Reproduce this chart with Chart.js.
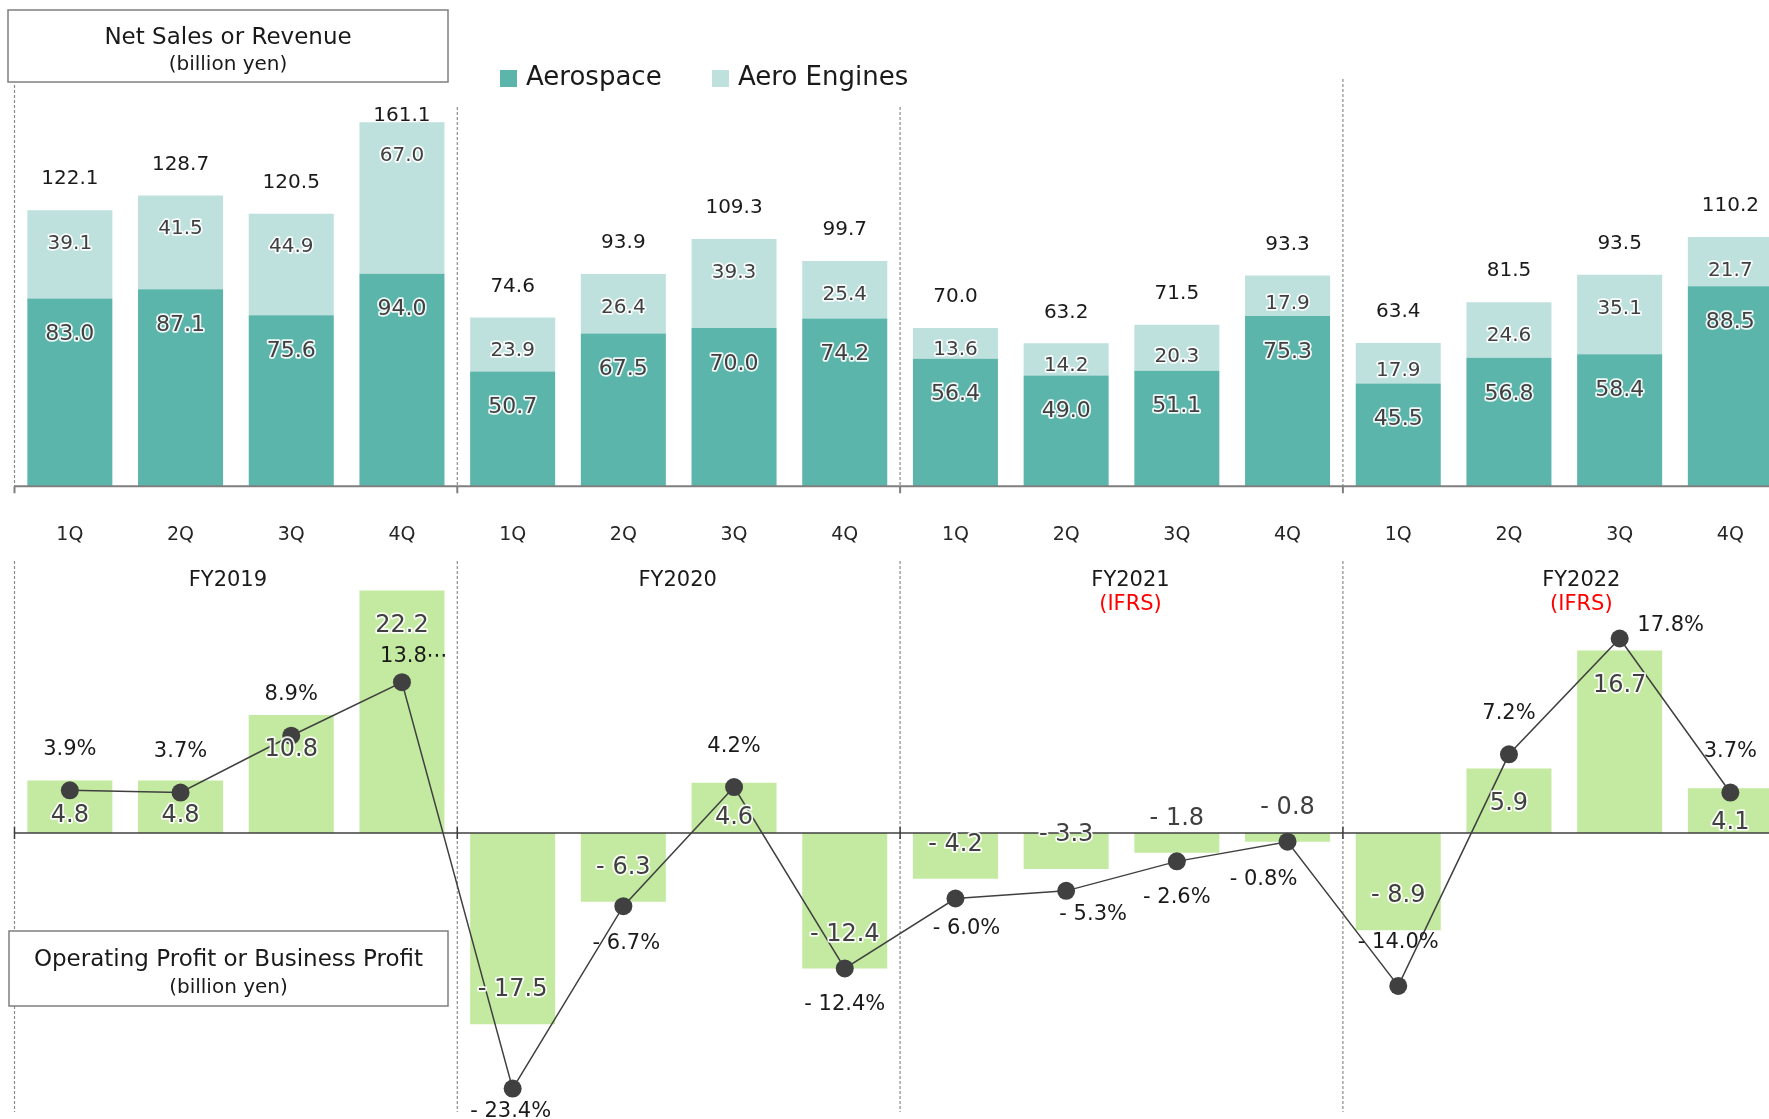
<!DOCTYPE html>
<html>
<head>
<meta charset="utf-8">
<title>Aerospace Systems quarterly results</title>
<script src="https://cdn.jsdelivr.net/npm/chart.js@4.4.1/dist/chart.umd.min.js"></script>
<style>
  html, body { margin: 0; padding: 0; background: #ffffff; overflow: hidden; }
  #wrap { position: relative; width: 1769px; height: 1119px; overflow: hidden; }
  canvas { position: absolute; left: 0; }
  #sales { top: 0; }
  #profit { top: 538px; }
</style>
</head>
<body>
<div id="wrap">
  <canvas id="sales" width="1800" height="560"></canvas>
  <canvas id="profit" width="1800" height="581"></canvas>
</div>
<script>
// ---- data (billion yen / %) ----
const quarters = ['1Q', '2Q', '3Q', '4Q'];
const fiscalYears = ['FY2019', 'FY2020', 'FY2021', 'FY2022'];
const accountingNotes = ['', '', '(IFRS)', '(IFRS)'];
const aerospace = [83.0, 87.1, 75.6, 94.0, 50.7, 67.5, 70.0, 74.2, 56.4, 49.0, 51.1, 75.3, 45.5, 56.8, 58.4, 88.5];
const aeroEngines = [39.1, 41.5, 44.9, 67.0, 23.9, 26.4, 39.3, 25.4, 13.6, 14.2, 20.3, 17.9, 17.9, 24.6, 35.1, 21.7];
const netSales = [122.1, 128.7, 120.5, 161.1, 74.6, 93.9, 109.3, 99.7, 70.0, 63.2, 71.5, 93.3, 63.4, 81.5, 93.5, 110.2];
const operatingProfit = [4.8, 4.8, 10.8, 22.2, -17.5, -6.3, 4.6, -12.4, -4.2, -3.3, -1.8, -0.8, -8.9, 5.9, 16.7, 4.1];
const profitMargin = [3.9, 3.7, 8.9, 13.8, -23.4, -6.7, 4.2, -12.4, -6.0, -5.3, -2.6, -0.8, -14.0, 7.2, 17.8, 3.7];

const quarterLabels = fiscalYears.flatMap(() => quarters);

// ---- drawing helpers ----
const FAMILY = '"DejaVu Sans", Verdana, sans-serif';
Chart.defaults.font.family = FAMILY;
const font = (size) => size + 'px ' + FAMILY;
const fmt = (v) => (v < 0 ? '- ' : '') + Math.abs(v).toFixed(1);

function haloText(ctx, text, x, y, size) {
  ctx.save();
  ctx.font = font(size);
  ctx.textAlign = 'center';
  ctx.textBaseline = 'middle';
  ctx.lineJoin = 'round';
  ctx.lineWidth = 3.5;
  ctx.strokeStyle = 'rgba(255,255,255,0.9)';
  ctx.strokeText(text, x, y);
  ctx.fillStyle = '#404040';
  ctx.fillText(text, x, y);
  ctx.restore();
}

function plainText(ctx, text, x, y, size, color, align) {
  ctx.save();
  ctx.font = font(size);
  ctx.textAlign = align || 'center';
  ctx.textBaseline = 'middle';
  ctx.fillStyle = color || '#1a1a1a';
  ctx.fillText(text, x, y);
  ctx.restore();
}

function dashedLine(ctx, x, y0, y1) {
  ctx.save();
  ctx.strokeStyle = '#8c8c8c';
  ctx.lineWidth = 1.2;
  ctx.setLineDash([3, 2]);
  ctx.beginPath();
  ctx.moveTo(x, y0);
  ctx.lineTo(x, y1);
  ctx.stroke();
  ctx.restore();
}

function titleBox(ctx, x, y, w, h, lines) {
  ctx.save();
  ctx.fillStyle = '#ffffff';
  ctx.fillRect(x, y, w, h);
  ctx.strokeStyle = '#7f7f7f';
  ctx.lineWidth = 1.5;
  ctx.strokeRect(x, y, w, h);
  ctx.restore();
  lines.forEach(l => plainText(ctx, l.text, x + w / 2, y + l.dy, l.size, '#1a1a1a'));
}

// left edges of each fiscal-year group of four quarters
function groupEdges(chart) {
  const x = chart.scales.x;
  const half = (x.getPixelForValue(1) - x.getPixelForValue(0)) / 2;
  return fiscalYears.map((_, g) => x.getPixelForValue(g * 4) - half);
}

function axisLine(ctx, chart, y, color, width, tickUp, tickDown) {
  const edges = groupEdges(chart);
  ctx.save();
  ctx.strokeStyle = color;
  ctx.lineWidth = width;
  ctx.beginPath();
  ctx.moveTo(edges[0], y);
  ctx.lineTo(chart.chartArea.right, y);
  edges.forEach(e => { ctx.moveTo(e, y - tickUp); ctx.lineTo(e, y + tickDown); });
  ctx.stroke();
  ctx.restore();
}

// ---- net sales chart ----
const salesDecor = {
  id: 'salesDecor',
  beforeDatasetsDraw(chart) {
    const ctx = chart.ctx;
    const edges = groupEdges(chart);
    const tops = [85, 107, 107, 79];
    edges.forEach((e, g) => dashedLine(ctx, e, tops[g], chart.chartArea.bottom));
  },
  afterDatasetsDraw(chart) {
    const ctx = chart.ctx;
    axisLine(ctx, chart, chart.chartArea.bottom, '#7f7f7f', 2, 0, 7);

    const metaA = chart.getDatasetMeta(0);
    const metaE = chart.getDatasetMeta(1);
    metaA.data.forEach((bar, i) => haloText(ctx, fmt(aerospace[i]), bar.x, bar.y + 36, 22));
    metaE.data.forEach((bar, i) => {
      const h = bar.base - bar.y;
      haloText(ctx, fmt(aeroEngines[i]), bar.x, bar.y + 2 + Math.min(31.5, h * 0.65), 20);
      plainText(ctx, fmt(netSales[i]), bar.x, Math.max(bar.y - 31, 116), 20, '#1a1a1a');
    });
  },
  afterDraw(chart) {
    const ctx = chart.ctx;
    titleBox(ctx, 8, 10, 440, 72, [
      { text: 'Net Sales or Revenue', size: 23, dy: 28 },
      { text: '(billion yen)', size: 20, dy: 55 }
    ]);
    // legend
    const legendX = [500, 712];
    chart.data.datasets.forEach((ds, i) => {
      ctx.fillStyle = ds.backgroundColor;
      ctx.fillRect(legendX[i], 70, 17, 17);
      plainText(ctx, ds.label, legendX[i] + 26, 78, 26, '#1a1a1a', 'left');
    });
  }
};

new Chart(document.getElementById('sales'), {
  type: 'bar',
  data: {
    labels: quarterLabels,
    datasets: [
      { label: 'Aerospace', data: aerospace, backgroundColor: '#5bb5aa', stack: 'sales' },
      { label: 'Aero Engines', data: aeroEngines, backgroundColor: '#bfe1dd', stack: 'sales' }
    ]
  },
  options: {
    responsive: false,
    animation: false,
    layout: { autoPadding: false, padding: { left: 14.5, right: 14.3, top: 0, bottom: 0 } },
    datasets: { bar: { barPercentage: 0.768, categoryPercentage: 1 } },
    plugins: { legend: { display: false }, tooltip: { enabled: false } },
    scales: {
      x: {
        stacked: true,
        grid: { display: false, drawTicks: false },
        border: { display: false },
        ticks: { padding: 37, color: '#262626', font: { size: 19 } },
        afterFit(scale) { scale.height = 73.7; }
      },
      y: { stacked: true, display: false, min: 0, max: 215 }
    }
  },
  plugins: [salesDecor]
});

// ---- operating profit chart ----
const marginLabelShift = {
  3: { dx: 12, dy: -26, ellipsis: true },
  4: { dx: -2, dy: 23 },
  5: { dx: 3, dy: 37 },
  8: { dx: 11, dy: 30 },
  9: { dx: 27, dy: 24 },
  11: { dx: -24, dy: 38 },
  12: { dx: 0, dy: -43 },
  14: { dx: 51, dy: -13 }
};
const fyLabelShift = [-8, -1, 9, 17];

const profitDecor = {
  id: 'profitDecor',
  beforeDatasetsDraw(chart) {
    const ctx = chart.ctx;
    groupEdges(chart).forEach(e => dashedLine(ctx, e, 23, 574));
    const x = chart.scales.x;
    fiscalYears.forEach((fy, g) => {
      const mid = (x.getPixelForValue(g * 4) + x.getPixelForValue(g * 4 + 3)) / 2 + fyLabelShift[g];
      plainText(ctx, fy, mid, 43, 21, '#1a1a1a');
      if (accountingNotes[g]) plainText(ctx, accountingNotes[g], mid, 67, 21, '#ff0000');
    });
  },
  afterDatasetsDraw(chart) {
    const ctx = chart.ctx;
    const zero = chart.scales.y.getPixelForValue(0);
    axisLine(ctx, chart, zero, '#404040', 1.5, 6, 6);

    chart.getDatasetMeta(1).data.forEach((bar, i) => {
      const v = operatingProfit[i];
      haloText(ctx, fmt(v), bar.x, v >= 0 ? bar.y + 35 : bar.y - 34, 24);
    });
    chart.getDatasetMeta(0).data.forEach((pt, i) => {
      const v = profitMargin[i];
      const s = marginLabelShift[i] || { dx: 0, dy: v >= 0 ? -41 : 36 };
      const text = fmt(v) + (s.ellipsis ? '\u22EF' : '%');
      plainText(ctx, text, pt.x + s.dx, pt.y + s.dy, 21, '#1a1a1a');
    });
  },
  afterDraw(chart) {
    titleBox(chart.ctx, 9, 393, 439, 75, [
      { text: 'Operating Profit or Business Profit', size: 23, dy: 29 },
      { text: '(billion yen)', size: 20, dy: 57 }
    ]);
  }
};

new Chart(document.getElementById('profit'), {
  type: 'bar',
  data: {
    labels: quarterLabels,
    datasets: [
      {
        type: 'line',
        label: 'Operating margin',
        data: profitMargin,
        borderColor: '#404040',
        borderWidth: 1.5,
        pointRadius: 9,
        pointBackgroundColor: '#404040',
        pointBorderWidth: 0,
        tension: 0,
        clip: false,
        order: 0
      },
      {
        type: 'bar',
        label: 'Operating Profit or Business Profit',
        data: operatingProfit,
        backgroundColor: '#c3eaa0',
        barPercentage: 0.768,
        categoryPercentage: 1,
        order: 1
      }
    ]
  },
  options: {
    responsive: false,
    animation: false,
    layout: { autoPadding: false, padding: { left: 14.5, right: 14.3, top: 0, bottom: 2 } },
    plugins: { legend: { display: false }, tooltip: { enabled: false } },
    scales: {
      x: { display: false, offset: true },
      y: { display: false, min: -26, max: 27 }
    }
  },
  plugins: [profitDecor]
});
</script>
</body>
</html>
